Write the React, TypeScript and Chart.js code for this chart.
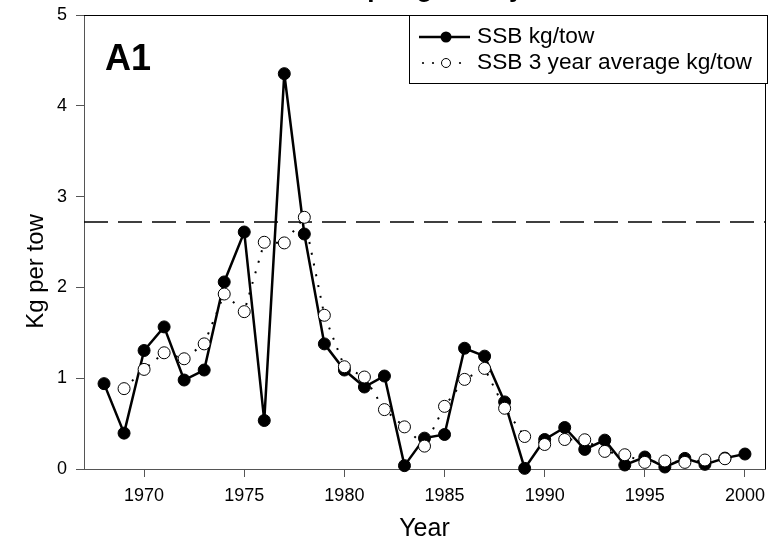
import React, { useEffect, useRef } from "react";
import { Chart, registerables } from "chart.js";

Chart.register(...registerables);

const years = [
  1968, 1969, 1970, 1971, 1972, 1973, 1974, 1975, 1976, 1977, 1978, 1979, 1980,
  1981, 1982, 1983, 1984, 1985, 1986, 1987, 1988, 1989, 1990, 1991, 1992, 1993,
  1994, 1995, 1996, 1997, 1998, 1999, 2000,
];
const ssbKgTow = [
  0.94, 0.395, 1.305, 1.565, 0.98, 1.09, 2.06, 2.61, 0.534, 4.354, 2.588, 1.378,
  1.09, 0.903, 1.024, 0.037, 0.34, 0.38, 1.33, 1.243, 0.739, 0.007, 0.325, 0.457,
  0.216, 0.318, 0.044, 0.132, 0.022, 0.117, 0.051, 0.12, 0.165,
];
const ssb3YearAvg = [
  null, 0.885, 1.097, 1.28, 1.214, 1.378, 1.927, 1.733, 2.497, 2.49, 2.772, 1.693,
  1.126, 1.013, 0.654, 0.464, 0.252, 0.69, 0.987, 1.108, 0.669, 0.358, 0.27, 0.325,
  0.322, 0.194, 0.157, 0.073, 0.088, 0.073, 0.099, 0.113, null,
];
const xTickValues = [1970, 1975, 1980, 1985, 1990, 1995, 2000];
const yTickValues = [0, 1, 2, 3, 4, 5];
const referenceLevel = 2.72;
const seriesLabels = ["SSB kg/tow", "SSB 3 year average kg/tow"];
const panelLabel = "A1";
const titleText = "Spring survey";
const xTitle = "Year";
const yTitle = "Kg per tow";

const FONT = "'Liberation Sans', Arial, Helvetica, sans-serif";

const overlayPlugin = {
  id: "overlay",
  beforeDatasetsDraw(chart: any) {
    const { ctx, chartArea, scales } = chart;
    const y = scales.y.getPixelForValue(referenceLevel);
    ctx.save();
    ctx.strokeStyle = "#000";
    ctx.lineWidth = 1.5;
    ctx.setLineDash([24, 10]);
    ctx.beginPath();
    ctx.moveTo(chartArea.left, y);
    ctx.lineTo(chartArea.right, y);
    ctx.stroke();
    ctx.restore();
  },
  afterDraw(chart: any) {
    const { ctx, chartArea, height } = chart;
    const { left, right, top, bottom } = chartArea;
    ctx.save();
    // top and right frame
    ctx.strokeStyle = "#000";
    ctx.lineWidth = 1;
    ctx.beginPath();
    ctx.moveTo(left, top + 0.5);
    ctx.lineTo(right + 0.5, top + 0.5);
    ctx.lineTo(right + 0.5, bottom);
    ctx.stroke();

    // clipped title
    ctx.fillStyle = "#000";
    ctx.font = `bold 26px ${FONT}`;
    ctx.textAlign = "left";
    ctx.textBaseline = "alphabetic";
    ctx.fillText(titleText, 350, -3);

    // panel label
    ctx.font = `bold 36px ${FONT}`;
    ctx.textBaseline = "alphabetic";
    ctx.fillText(panelLabel, 105, 70);

    // legend
    const lx0 = 409;
    const lx1 = right + 2;
    const ly0 = top + 0.5;
    const ly1 = 83.5;
    ctx.fillStyle = "#fff";
    ctx.fillRect(lx0, ly0, lx1 - lx0, ly1 - ly0);
    ctx.strokeStyle = "#000";
    ctx.lineWidth = 1;
    ctx.strokeRect(lx0 + 0.5, ly0, lx1 - lx0, ly1 - ly0);

    const r1 = 37;
    const r2 = 63;
    ctx.lineWidth = 2.5;
    ctx.beginPath();
    ctx.moveTo(419, r1);
    ctx.lineTo(470, r1);
    ctx.stroke();
    ctx.fillStyle = "#000";
    ctx.beginPath();
    ctx.arc(446, r1, 5.5, 0, Math.PI * 2);
    ctx.fill();

    [423, 433, 460].forEach((dx) => {
      ctx.beginPath();
      ctx.arc(dx, r2, 1.1, 0, Math.PI * 2);
      ctx.fill();
    });
    ctx.lineWidth = 1;
    ctx.fillStyle = "#fff";
    ctx.beginPath();
    ctx.arc(446, r2, 4.5, 0, Math.PI * 2);
    ctx.fill();
    ctx.stroke();

    ctx.fillStyle = "#000";
    ctx.font = `22.7px ${FONT}`;
    ctx.textBaseline = "middle";
    ctx.fillText(seriesLabels[0], 477, r1);
    ctx.fillText(seriesLabels[1], 477, r2);

    // axis titles
    ctx.font = `25px ${FONT}`;
    ctx.textAlign = "center";
    ctx.textBaseline = "alphabetic";
    ctx.fillText(xTitle, (left + right) / 2, 536);

    ctx.save();
    ctx.translate(43, height / 2);
    ctx.rotate(-Math.PI / 2);
    ctx.font = `24px ${FONT}`;
    ctx.textAlign = "center";
    ctx.textBaseline = "alphabetic";
    ctx.fillText(yTitle, 0, 0);
    ctx.restore();

    ctx.restore();
  },
};

export default function App() {
  const canvasRef = useRef<HTMLCanvasElement | null>(null);

  useEffect(() => {
    if (!canvasRef.current) return;
    const ssbPoints = years.map((yr, i) => ({ x: yr, y: ssbKgTow[i] }));
    const avgPoints = years.map((yr, i) => ({ x: yr, y: ssb3YearAvg[i] }));
    const chart = new Chart(canvasRef.current, {
      type: "line",
      data: {
        datasets: [
          {
            label: seriesLabels[0],
            data: ssbPoints as any,
            borderColor: "#000",
            borderWidth: 2.5,
            pointBackgroundColor: "#000",
            pointBorderColor: "#000",
            pointRadius: 6,
            pointBorderWidth: 1,
            tension: 0,
            clip: false as any,
            order: 2,
          },
          {
            label: seriesLabels[1],
            data: avgPoints as any,
            borderColor: "#000",
            borderWidth: 2,
            borderDash: [2, 9],
            pointBackgroundColor: "#fff",
            pointBorderColor: "#000",
            pointRadius: 6,
            pointBorderWidth: 1,
            tension: 0,
            clip: false as any,
            order: 1,
          },
        ],
      },
      options: {
        responsive: false,
        animation: false,
        devicePixelRatio: 1,
        layout: { padding: { top: 15, right: 5, left: 0, bottom: 0 } },
        plugins: {
          legend: { display: false },
          tooltip: { enabled: false },
          title: { display: false },
        },
        scales: {
          x: {
            type: "linear",
            min: 1967,
            max: 2001,
            afterBuildTicks: (scale: any) => {
              scale.ticks = xTickValues.map((v) => ({ value: v }));
            },
            afterFit: (scale: any) => {
              scale.height = 74;
              scale.paddingLeft = 0;
              scale.paddingRight = 0;
            },
            grid: {
              drawOnChartArea: false,
              drawTicks: true,
              tickLength: 8,
              color: "#555",
            },
            border: { display: true, color: "#555", width: 1 },
            ticks: {
              color: "#000",
              font: { family: FONT, size: 18 },
              padding: 8,
              maxRotation: 0,
              callback: (v: any) => String(v),
            },
          },
          y: {
            type: "linear",
            min: 0,
            max: 5,
            afterBuildTicks: (scale: any) => {
              scale.ticks = yTickValues.map((v) => ({ value: v }));
            },
            afterFit: (scale: any) => {
              scale.width = 84;
              scale.paddingTop = 0;
              scale.paddingBottom = 0;
            },
            grid: {
              drawOnChartArea: false,
              drawTicks: true,
              tickLength: 8,
              color: "#555",
            },
            border: { display: true, color: "#555", width: 1 },
            ticks: {
              color: "#000",
              font: { family: FONT, size: 18 },
              padding: 9,
              callback: (v: any) => String(v),
            },
          },
        },
      },
      plugins: [overlayPlugin],
    });
    return () => chart.destroy();
  }, []);

  return (
    <div style={{ position: "absolute", left: 0, top: 0, width: 772, height: 543, background: "#fff" }}>
      <canvas ref={canvasRef} width={772} height={543} style={{ width: 772, height: 543, display: "block" }} />
    </div>
  );
}
